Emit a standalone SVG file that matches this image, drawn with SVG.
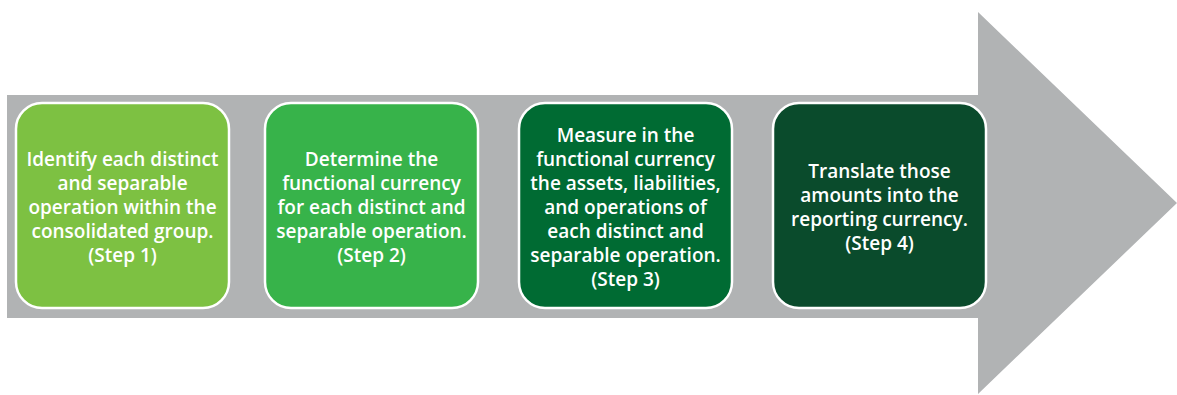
<svg xmlns="http://www.w3.org/2000/svg" width="1177" height="395" viewBox="0 0 1177 395">
<style>
.box{stroke:#ffffff;stroke-width:2.5}
.t{font-family:"Open Sans","Liberation Sans",sans-serif;font-weight:600;font-size:19px;fill:#ffffff;text-anchor:middle}
</style>
<rect width="1177" height="395" fill="#ffffff"/>
<g id="arrow">
<polygon points="7,95 978,95 978,12 1177,203 978,394 978,318 7,318" fill="#b1b3b4"/>
</g>
<g id="connectors"></g>
<g id="step1">
<rect class="box" x="16" y="103" width="213" height="205" rx="26" fill="#7dc142"/>
<text class="t" x="122.5" y="166">Identify each distinct</text>
<text class="t" x="122.5" y="190">and separable</text>
<text class="t" x="122.5" y="214">operation within the</text>
<text class="t" x="122.5" y="238">consolidated group.</text>
<text class="t" x="122.5" y="262">(Step 1)</text>
</g>
<g id="step2">
<rect class="box" x="265" y="103" width="213" height="205" rx="26" fill="#37b34a"/>
<text class="t" x="371.5" y="166">Determine the</text>
<text class="t" x="371.5" y="190">functional currency</text>
<text class="t" x="371.5" y="214">for each distinct and</text>
<text class="t" x="371.5" y="238">separable operation.</text>
<text class="t" x="371.5" y="262">(Step 2)</text>
</g>
<g id="step3">
<rect class="box" x="519" y="103" width="213" height="205" rx="26" fill="#006b33"/>
<text class="t" x="625.5" y="142">Measure in the</text>
<text class="t" x="625.5" y="166">functional currency</text>
<text class="t" x="625.5" y="190">the assets, liabilities,</text>
<text class="t" x="625.5" y="214">and operations of</text>
<text class="t" x="625.5" y="238">each distinct and</text>
<text class="t" x="625.5" y="262">separable operation.</text>
<text class="t" x="625.5" y="286">(Step 3)</text>
</g>
<g id="step4">
<rect class="box" x="773" y="103" width="213" height="205" rx="26" fill="#0a4b2c"/>
<text class="t" x="879.5" y="178">Translate those</text>
<text class="t" x="879.5" y="202">amounts into the</text>
<text class="t" x="879.5" y="226">reporting currency.</text>
<text class="t" x="879.5" y="250">(Step 4)</text>
</g>
</svg>
